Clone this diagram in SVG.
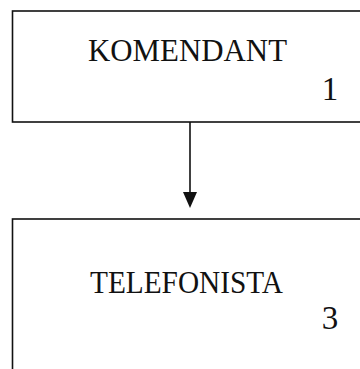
<svg xmlns="http://www.w3.org/2000/svg" width="360" height="369" viewBox="0 0 360 369">
<style>
.box{fill:none;stroke:#111;stroke-width:1.6}
.t{font-family:"Liberation Serif","Times New Roman",serif;fill:#111}
.conn{stroke:#111;stroke-width:1.6;fill:none}
.num{font-size:33px;text-anchor:middle}
</style>
<rect width="360" height="369" fill="#fff"/>
<g id="komendant">
<rect class="box" x="12.5" y="11" width="370" height="111"/>
<text class="t" x="88" y="61" font-size="32" textLength="199" lengthAdjust="spacingAndGlyphs">KOMENDANT</text>
<text class="t num" x="330" y="100">1</text>
</g>
<g id="telefonista">
<rect class="box" x="12.5" y="219" width="370" height="170"/>
<text class="t" x="90" y="293" font-size="31" textLength="193" lengthAdjust="spacingAndGlyphs">TELEFONISTA</text>
<text class="t num" x="330" y="329">3</text>
</g>
<g id="connectors">
<line class="conn" x1="190" y1="122" x2="190" y2="194"/>
<path d="M183,192 L197,192 L190,208 Z" fill="#111"/>
</g>
</svg>
